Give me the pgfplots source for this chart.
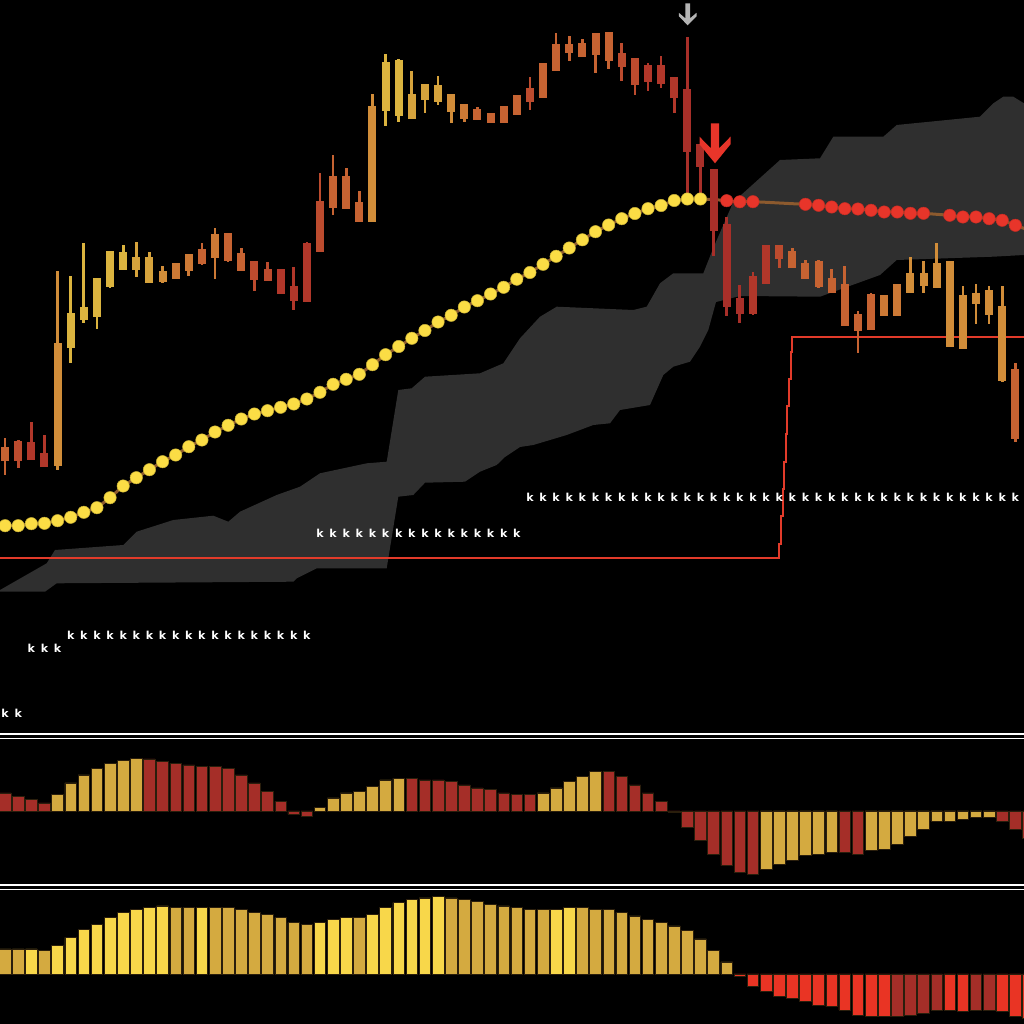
\documentclass[border=0pt]{standalone}
\usepackage{pgfplots}
\pgfplotsset{compat=1.18}
\usepackage{pgfplotstable}
\usepackage{fontspec}
\newfontfamily\kfont{DejaVu Sans}

\definecolor{cloud}{HTML}{2F2F2F}
\definecolor{mabrown}{HTML}{8C5A2E}
\definecolor{dotyel}{HTML}{FBDD45}
\definecolor{dotred}{HTML}{E8352A}
\definecolor{stopred}{HTML}{E23B2A}
\definecolor{hgold}{HTML}{D4AA40}
\definecolor{hred}{HTML}{A52E28}
\definecolor{hyel}{HTML}{F8D74A}
\definecolor{hbred}{HTML}{E93424}
\definecolor{hborder}{HTML}{2A1E0C}
\definecolor{arrgray}{HTML}{B4B4B4}
\definecolor{arrred}{HTML}{E8352A}
\definecolor{k1}{HTML}{DBB43F}
\definecolor{k2}{HTML}{D6A33C}
\definecolor{k3}{HTML}{D18D39}
\definecolor{k4}{HTML}{CC7935}
\definecolor{k5}{HTML}{C66332}
\definecolor{k6}{HTML}{BC4B2E}
\definecolor{k7}{HTML}{B1372A}
\definecolor{k8}{HTML}{A82F29}

\pgfdeclareplotmark{grayarrow}{%
 \pgfpathmoveto{\pgfpoint{-2.4pt}{22pt}}%
 \pgfpathlineto{\pgfpoint{2.4pt}{22pt}}%
 \pgfpathlineto{\pgfpoint{2.4pt}{7pt}}%
 \pgfpathlineto{\pgfpoint{8.8pt}{12.5pt}}%
 \pgfpathlineto{\pgfpoint{8.8pt}{9pt}}%
 \pgfpathlineto{\pgfpoint{0pt}{0pt}}%
 \pgfpathlineto{\pgfpoint{-8.8pt}{9pt}}%
 \pgfpathlineto{\pgfpoint{-8.8pt}{12.5pt}}%
 \pgfpathlineto{\pgfpoint{-2.4pt}{7pt}}%
 \pgfpathclose\pgfusepathqfill}
\pgfdeclareplotmark{redarrow}{%
 \pgfpathmoveto{\pgfpoint{-4.2pt}{40pt}}%
 \pgfpathlineto{\pgfpoint{4.2pt}{40pt}}%
 \pgfpathlineto{\pgfpoint{4.2pt}{15pt}}%
 \pgfpathlineto{\pgfpoint{15.5pt}{26.6pt}}%
 \pgfpathlineto{\pgfpoint{15.5pt}{19pt}}%
 \pgfpathlineto{\pgfpoint{0pt}{0pt}}%
 \pgfpathlineto{\pgfpoint{-15.5pt}{19pt}}%
 \pgfpathlineto{\pgfpoint{-15.5pt}{26.6pt}}%
 \pgfpathlineto{\pgfpoint{-4.2pt}{15pt}}%
 \pgfpathclose\pgfusepathqfill}

% candles: pixel rows (high, low, body top, body bottom), colour class
\pgfplotstableread{
i hi lo top bot c
0 438.3 475 447.7 460.7 5
1 440 468.3 441.7 460.7 6
2 422.3 460 442.7 459.3 7
3 435 466.7 453.3 466.7 7
4 271 470 343.3 465 3
5 276 363.3 313.3 347.3 1
6 243.3 323.3 307.3 319 1
7 278.3 328.7 278.7 316.7 1
8 251.7 288.3 251.7 286 1
9 245 270 252.3 269.3 1
10 241.7 276.7 257.3 269.3 2
11 251.7 282.7 257.3 282.7 2
12 266 282.7 271.7 281 3
13 263.3 279.3 263.3 278.3 4
14 254.3 276 254.3 270.7 4
15 243.3 265 250 263.3 5
16 228.3 279.3 235 257.3 4
17 233.3 261.7 234 260 5
18 248.3 270 253.3 270 5
19 261.7 290.7 261.7 279.3 6
20 261.7 280 270 280 6
21 270 293.3 270 293.3 7
22 266.7 310 286.7 300.7 7
23 242.3 301.7 243.3 301.7 7
24 172.7 251 201.7 251 6
25 155 215 176.7 207.3 5
26 167.7 208.3 176.7 208.3 5
27 191 222.3 202.7 221.7 5
28 94 222.3 106.7 221.7 3
29 54.3 125.7 62.3 110 1
30 59.3 121.7 60.7 115 1
31 71 118.3 95 118.3 2
32 84 113.3 85 99.3 2
33 75.7 105 86 101.7 2
34 94.3 123.3 94.3 111.7 3
35 104 121.7 105 118.3 4
36 107.3 120 110 119.3 5
37 112.7 123.3 114 122.7 5
38 106 123.3 106.7 122.7 5
39 96 114 96 114 5
40 77.3 110 89 101.7 6
41 62.7 97.3 63.3 97.3 5
42 33.3 70.7 45 70.7 5
43 36 60.7 45 52.7 5
44 39.3 57.3 43.3 56 5
45 33.3 72.7 34 54 5
46 31.7 69.3 32.7 60.7 5
47 43.3 80.7 54 66.7 6
48 57.7 95 58.3 84 6
49 62.7 90.7 66 81.7 7
50 56 88.3 66 83.3 7
51 77.3 113.3 77.3 97.3 7
52 36.7 196.7 89.3 151.7 8
53 145 196.7 145 166.7 8
54 169.3 256 170 230 8
55 217.3 315.7 225 306.7 8
56 285 323.3 298.3 313.3 8
57 271.7 315 276.7 313.3 7
58 246 283.3 246 283.3 7
59 245 268.3 246 258.3 6
60 248.3 268.3 251.7 267.3 5
61 260 279 263.3 278.3 5
62 260 287.7 261.7 286 5
63 269.3 292.7 278.3 292.7 5
64 266 325 285 325 5
65 310.7 353.3 315 330 5
66 292.7 330 295 329.3 5
67 296 315 296 315 4
68 284.3 315 284.3 315 4
69 257.3 292.7 273.3 292.7 3
70 260.7 292.7 273.3 285 3
71 242.7 287.3 263.3 287.3 3
72 261 346.7 261.7 346.7 3
73 286 348.3 296 348.3 3
74 284 324 293.3 303.3 3
75 286 324 291 314 3
76 286 381.7 306.7 380 3
77 362.7 441.7 370 438.3 5
}\candletab

% moving average (pixel row), dot class: 1 yellow, 2 red, 0 none
\pgfplotstableread{
i y c
0 525.7 1
1 525.7 1
2 523.7 1
3 523.3 1
4 520.7 1
5 517.3 1
6 512.3 1
7 507.7 1
8 497.7 1
9 486 1
10 477.7 1
11 469.7 1
12 461.7 1
13 455 1
14 446.7 1
15 440 1
16 432 1
17 425.3 1
18 419 1
19 414 1
20 410.7 1
21 407.3 1
22 404 1
23 399 1
24 392.3 1
25 384.3 1
26 379.3 1
27 374.3 1
28 364.7 1
29 354.7 1
30 346.5 1
31 338.3 1
32 330.5 1
33 322 1
34 315.3 1
35 307 1
36 300.7 1
37 294 1
38 287.3 1
39 279.2 1
40 272.5 1
41 264.3 1
42 256.3 1
43 248 1
44 239.8 1
45 231.7 1
46 225 1
47 218.7 1
48 213.5 1
49 208.7 1
50 205.5 1
51 200.5 1
52 199 1
53 199 1
54 199.5 0
55 200.7 2
56 201.8 2
57 201.7 2
58 202.3 0
59 203 0
60 203.7 0
61 204.3 2
62 205.3 2
63 207 2
64 208.7 2
65 209 2
66 210.3 2
67 212 2
68 212 2
69 213.3 2
70 213.3 2
71 214.3 0
72 215.3 2
73 217 2
74 217 2
75 218.7 2
76 220.3 2
77 225.3 2
78 230 0
}\matab

% cloud outline: upper edge left to right, then lower edge right to left
\pgfplotstableread{
x y
0 590
46.7 563.3
55 550
123.3 545
136.7 531.7
173.3 520
213.3 515.7
228.3 521.7
240 511.7
276.7 495
300 486.7
320 473.3
366.7 463.3
386.7 461.7
398.3 390
411.7 388.3
425 376.7
480 373.3
503.3 363.3
520 338.3
540 316.7
556.7 306.7
633.3 310
646.7 306.7
660 283.3
673.3 273.3
703.3 273.3
713.3 248
733.3 202
780 160
820 158.3
833.3 136.7
883.3 136.7
896.7 125
980 116.7
993.3 103.3
1003.3 96.7
1013.3 96.7
1024 103.3
1024 255
993.3 256.7
896.7 260
880 275
820 296.7
740 296
716 302
708.3 330
700 346.7
690 361.7
673.3 366.7
663.3 375
650 405
620 410
610 423.3
593.3 425
566.7 435
533.3 445
520 447
505 457
496.7 465
480 471.7
465 481.7
425 482.7
413.3 495
398.3 496.7
386.7 568.3
316.7 568.3
296.7 578.3
293.3 581.7
56.7 583.3
45 591.7
0 591.7
}\cloudtab

\pgfplotstableread{
x y
0 557.7
779.3 557.7
779.3 544
781 544
781 516
782.7 516
782.7 489.3
784.3 489.3
784.3 461.7
786 461.7
786 434
787.3 434
787.3 406
789 406
789 379.3
790.7 379.3
790.7 351.7
792.3 351.7
792.3 337.3
1024 337.3
}\stoptab

\pgfplotstableread{
i y
0 713
1 713
2 648
3 648
4 648
5 635
6 635
7 635
8 635
9 635
10 635
11 635
12 635
13 635
14 635
15 635
16 635
17 635
18 635
19 635
20 635
21 635
22 635
23 635
24 533
25 533
26 533
27 533
28 533
29 533
30 533
31 533
32 533
33 533
34 533
35 533
36 533
37 533
38 533
39 533
40 497
41 497
42 497
43 497
44 497
45 497
46 497
47 497
48 497
49 497
50 497
51 497
52 497
53 497
54 497
55 497
56 497
57 497
58 497
59 497
60 497
61 497
62 497
63 497
64 497
65 497
66 497
67 497
68 497
69 497
70 497
71 497
72 497
73 497
74 497
75 497
76 497
77 497
}\startab

% histogram 1: value, class 1 gold 2 red
\pgfplotstableread{
i v c
0 18 2
1 14.7 2
2 11.3 2
3 8 2
4 16.3 1
5 28 1
6 36 1
7 42.7 1
8 47.7 1
9 50.7 1
10 52.3 1
11 52 2
12 49.3 2
13 47.7 2
14 46 2
15 44.3 2
16 44.3 2
17 42.7 2
18 36 2
19 28 2
20 19.7 2
21 9.7 2
22 -3.3 2
23 -5 2
24 3.3 1
25 13 1
26 18 1
27 19.7 1
28 24.7 1
29 31 1
30 32.7 1
31 32.7 2
32 31 2
33 31 2
34 29.3 2
35 26 2
36 23 2
37 21.3 2
38 18 2
39 16.3 2
40 16.3 2
41 18 1
42 23 1
43 29.7 1
44 34.3 1
45 39.3 1
46 39.3 2
47 34.3 2
48 26 2
49 18 2
50 9.7 2
51 -1.7 2
52 -16.7 2
53 -29.7 2
54 -43 2
55 -54.7 2
56 -61.3 2
57 -63 2
58 -58 1
59 -53 1
60 -49.7 1
61 -44.7 1
62 -43 1
63 -41.3 1
64 -41.3 2
65 -43 2
66 -39.7 1
67 -38 1
68 -33 1
69 -25 1
70 -18.3 1
71 -10 1
72 -10 1
73 -8.3 1
74 -6.7 1
75 -6.7 1
76 -10 2
77 -18.3 2
78 -27 2
}\histA

% histogram 2: value, class 1 yellow 2 gold 3 bright red 4 dark red
\pgfplotstableread{
i v c
0 25 2
1 25 2
2 25 1
3 23.7 2
4 28.3 1
5 36.7 1
6 44.7 1
7 49.7 1
8 56.3 1
9 61.3 1
10 64.7 1
11 66.3 1
12 68 1
13 66.3 2
14 66.3 2
15 66.3 1
16 66.3 2
17 66.3 2
18 64.7 2
19 61.3 2
20 59.7 2
21 56.3 2
22 51.3 2
23 49.7 2
24 51.3 1
25 54.7 1
26 56.3 1
27 56.3 2
28 59.7 1
29 66.3 1
30 71.3 1
31 74.7 1
32 76 1
33 77.7 1
34 76 2
35 74.3 2
36 72.7 2
37 69.7 2
38 68 2
39 66.3 2
40 64.7 2
41 64.7 2
42 64.7 1
43 66.3 1
44 66.3 2
45 64.7 2
46 64.7 2
47 61.3 2
48 58 2
49 54.7 2
50 51.3 2
51 48 2
52 43.3 2
53 35 2
54 23.7 2
55 12 2
56 -2.7 3
57 -12.7 3
58 -17.7 3
59 -22.7 3
60 -24.3 3
61 -27.7 3
62 -31 3
63 -32.7 3
64 -36 3
65 -41 3
66 -42.7 3
67 -42.7 3
68 -42.7 4
69 -41 4
70 -39.3 4
71 -36 4
72 -36 3
73 -37.7 3
74 -36 4
75 -36 4
76 -37.7 3
77 -42.7 3
78 -44 3
}\histB

\newcommand{\candleclass}[2]{%
 \addplot[draw=none, mark=none, forget plot, restrict expr to domain={\thisrow{c}}{#1:#1},
   error bars/.cd, y dir=both, y explicit, error mark=none,
   error bar style={line width=2.7pt, color=#2}]
   table[x expr=5.1+13.12*\thisrow{i}, y expr=(\thisrow{hi}+\thisrow{lo})/2,
   y error expr=(\thisrow{lo}-\thisrow{hi})/2] {\candletab};
 \addplot[draw=none, mark=none, forget plot, restrict expr to domain={\thisrow{c}}{#1:#1},
   error bars/.cd, y dir=both, y explicit, error mark=none,
   error bar style={line width=8pt, color=#2}]
   table[x expr=5.1+13.12*\thisrow{i}, y expr=(\thisrow{top}+\thisrow{bot})/2,
   y error expr=(\thisrow{bot}-\thisrow{top})/2+0.6] {\candletab};
}
\newcommand{\histclass}[3]{%
 \addplot[ybar, bar width=11.6pt, bar shift=0pt, fill=#3, draw=hborder, line width=0.6pt,
   forget plot, restrict expr to domain={\thisrow{c}}{#2:#2}]
   table[x expr=5.1+13.12*\thisrow{i}, y=v] {#1};
}

\begin{document}
\begin{tikzpicture}[x=1pt,y=1pt]
\useasboundingbox (0pt,0pt) rectangle (1024pt,1024pt);
\fill[black] (0pt,0pt) rectangle (1024pt,1024pt);

% main price panel (pixel rows, downward)
\begin{axis}[at={(0pt,291pt)}, anchor=south west, scale only axis, width=1024pt, height=733pt,
  xmin=0, xmax=1024, ymin=0, ymax=733, y dir=reverse, hide axis, clip=true]
 \addplot[fill=cloud, draw=none, forget plot] table[x=x,y=y] {\cloudtab};
 \addplot[stopred, line width=2pt, forget plot] table[x=x,y=y] {\stoptab};
 \addplot[only marks, mark=text, text mark={k}, text mark as node=true,
   text mark style={font=\kfont\bfseries\fontsize{11}{11}\selectfont, text=white, inner sep=0pt},
   forget plot] table[x expr=5.1+13.12*\thisrow{i}, y=y] {\startab};
 \addplot[mabrown, line width=3pt, forget plot] table[x expr=5.1+13.12*\thisrow{i}, y=y] {\matab};
 \candleclass{1}{k1}
 \candleclass{2}{k2}
 \candleclass{3}{k3}
 \candleclass{4}{k4}
 \candleclass{5}{k5}
 \candleclass{6}{k6}
 \candleclass{7}{k7}
 \candleclass{8}{k8}
 \addplot[only marks, mark=*, mark size=6.2pt, restrict expr to domain={\thisrow{c}}{1:1},
   mark options={fill=dotyel, draw=dotyel!80!black, line width=0.5pt}, forget plot]
   table[x expr=5.1+13.12*\thisrow{i}, y=y] {\matab};
 \addplot[only marks, mark=*, mark size=6.2pt, restrict expr to domain={\thisrow{c}}{2:2},
   mark options={fill=dotred, draw=dotred!85!black, line width=0.5pt}, forget plot]
   table[x expr=5.1+13.12*\thisrow{i}, y=y] {\matab};
 \addplot[only marks, mark=grayarrow, color=arrgray, mark options={fill=arrgray, draw=none}, forget plot]
   coordinates {(687.7,25.3)};
 \addplot[only marks, mark=redarrow, color=arrred, mark options={fill=arrred, draw=none}, forget plot]
   coordinates {(715,163.3)};
\end{axis}

% separators
\draw[white, line width=2pt] (0pt,290pt) -- (1024pt,290pt);
\draw[white, line width=1.4pt] (0pt,285.5pt) -- (1024pt,285.5pt);
\draw[white, line width=2pt] (0pt,139pt) -- (1024pt,139pt);
\draw[white, line width=1.4pt] (0pt,134.5pt) -- (1024pt,134.5pt);

% histogram 1
\begin{axis}[at={(0pt,140pt)}, anchor=south west, scale only axis, width=1024pt, height=143pt,
  xmin=0, xmax=1024, ymin=-73, ymax=70, hide axis, clip=true]
 \histclass{\histA}{1}{hgold}
 \histclass{\histA}{2}{hred}
\end{axis}

% histogram 2
\begin{axis}[at={(0pt,0pt)}, anchor=south west, scale only axis, width=1024pt, height=133pt,
  xmin=0, xmax=1024, ymin=-50, ymax=83, hide axis, clip=true]
 \histclass{\histB}{1}{hyel}
 \histclass{\histB}{2}{hgold}
 \histclass{\histB}{3}{hbred}
 \histclass{\histB}{4}{hred}
\end{axis}
\end{tikzpicture}
\end{document}
